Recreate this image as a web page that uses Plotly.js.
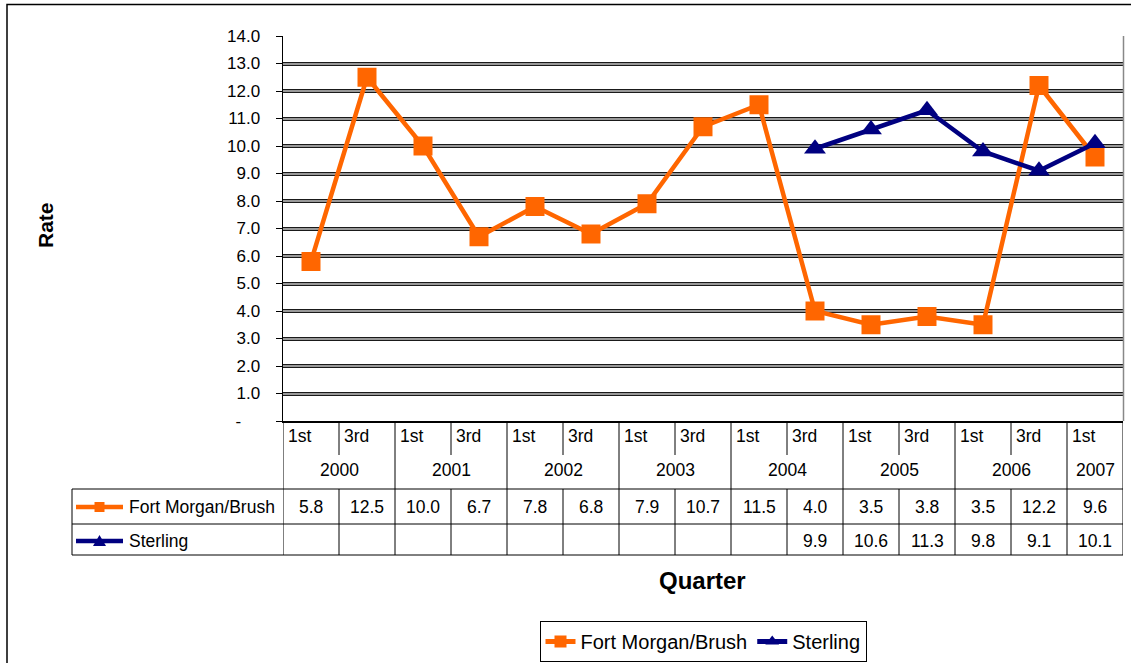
<!DOCTYPE html>
<html><head><meta charset="utf-8">
<script src="https://cdn.plot.ly/plotly-3.0.1.min.js"></script>
<style>html,body{margin:0;padding:0;background:#fff}</style>
</head><body><div id="chart" style="width:1131px;height:663px"></div>
<script>
// ---- data ----
const quarters = ['1st','3rd','1st','3rd','1st','3rd','1st','3rd','1st','3rd','1st','3rd','1st','3rd','1st'];
const years = ['2000','2000','2001','2001','2002','2002','2003','2003','2004','2004','2005','2005','2006','2006','2007'];
const fortMorgan = [5.8,12.5,10.0,6.7,7.8,6.8,7.9,10.7,11.5,4.0,3.5,3.8,3.5,12.2,9.6];
const sterling = [null,null,null,null,null,null,null,null,null,9.9,10.6,11.3,9.8,9.1,10.1];
const seriesNames = ['Fort Morgan/Brush','Sterling'];
const yTicks = [0,1,2,3,4,5,6,7,8,9,10,11,12,13,14];

// ---- styling / layout helpers ----
const W = 1131, H = 663;
const px = p => p / W;
const py = p => 1 - p / H;
const FONT = 'Liberation Sans, Arial, sans-serif';
const ORANGE = '#FF6600', NAVY = '#000080';
const cats = years.map((y, i) => y + ' ' + quarters[i]);
const yTickText = yTicks.map(v => v === 0 ? '-\u2007\u2007' : v.toFixed(1));
const gridTicks = yTicks.filter(v => v !== 0);

const traces = [
  {x: cats, y: fortMorgan, name: seriesNames[0], type: 'scatter', mode: 'lines+markers',
   line: {color: ORANGE, width: 4.5}, marker: {symbol: 'square', size: 19, color: ORANGE}},
  {x: cats, y: sterling, name: seriesNames[1], type: 'scatter', mode: 'lines+markers',
   line: {color: NAVY, width: 4.5}, marker: {symbol: 'triangle-up', size: 19, color: NAVY}}
];

// ---- data table (below the plot) ----
const tTop = 421, tQ = 455, tY = 489, tR1 = 524, tBot = 555;
const shapes = [];
const annotations = [];
const ln = (o) => shapes.push(Object.assign({type: 'line', line: {color: '#000', width: 1}, layer: 'above'}, o));

for (let b = 0; b <= cats.length; b++) {
  const xb = b - 0.5;
  ln({xref: 'x', yref: 'paper', x0: xb, x1: xb, y0: py(tY), y1: py(tBot)});
  const isYearEdge = b === 0 || b === cats.length || years[b] !== years[b - 1];
  ln({xref: 'x', yref: 'paper', x0: xb, x1: xb, y0: py(tTop), y1: py(isYearEdge ? tY : tQ)});
}
[tY, tR1, tBot].forEach(yy => ln({xref: 'paper', yref: 'paper', x0: px(72), x1: px(1123), y0: py(yy), y1: py(yy)}));
ln({xref: 'paper', yref: 'paper', x0: px(72), x1: px(72), y0: py(tY), y1: py(tBot)});

const tFont = {family: FONT, size: 17.5, color: '#000'};
quarters.forEach((q, i) => annotations.push({xref: 'x', yref: 'paper', x: i - 0.5, y: py(436), text: q,
  showarrow: false, xanchor: 'left', yanchor: 'middle', xshift: 3, font: tFont}));
const uniqYears = [...new Set(years)];
uniqYears.forEach(yr => {
  const idx = years.map((v, i) => v === yr ? i : -1).filter(i => i >= 0);
  const mid = idx.reduce((a, b) => a + b, 0) / idx.length;
  annotations.push({xref: 'x', yref: 'paper', x: mid, y: py(470), text: yr, showarrow: false,
    xanchor: 'center', yanchor: 'middle', font: tFont});
});
[[fortMorgan, 507], [sterling, 541]].forEach(([arr, yy]) => arr.forEach((v, i) => {
  if (v === null) return;
  annotations.push({xref: 'x', yref: 'paper', x: i, y: py(yy), text: v.toFixed(1), showarrow: false,
    xanchor: 'center', yanchor: 'middle', font: tFont});
}));
// series keys in table
[[seriesNames[0], 507, ORANGE, 'sq'], [seriesNames[1], 541, NAVY, 'tri']].forEach(([nm, yy, col, sym]) => {
  shapes.push({type: 'line', xref: 'paper', yref: 'paper', x0: px(76), x1: px(123), y0: py(yy), y1: py(yy),
    line: {color: col, width: 4.5}, layer: 'above'});
  if (sym === 'sq') {
    shapes.push({type: 'rect', xref: 'paper', yref: 'paper', x0: px(94.5), x1: px(104.5), y0: py(yy - 5), y1: py(yy + 5),
      fillcolor: col, line: {width: 0}, layer: 'above'});
  } else {
    shapes.push({type: 'path', xref: 'paper', yref: 'paper',
      path: `M ${px(93)} ${py(yy + 5)} L ${px(106)} ${py(yy + 5)} L ${px(99.5)} ${py(yy - 6)} Z`,
      fillcolor: col, line: {width: 0}, layer: 'above'});
  }
  annotations.push({xref: 'paper', yref: 'paper', x: px(127), y: py(yy), text: nm, showarrow: false,
    xanchor: 'left', yanchor: 'middle', font: tFont});
});

// plot area right border and outer chart border
shapes.push({type: 'line', xref: 'paper', yref: 'paper', x0: px(1123.5), x1: px(1123.5), y0: py(36), y1: py(421),
  line: {color: '#888', width: 1.5}, layer: 'above'});
shapes.push({type: 'rect', xref: 'paper', yref: 'paper', x0: px(7), x1: 1.02, y0: py(4.5), y1: -0.02,
  line: {color: '#000', width: 1.5}, fillcolor: 'rgba(0,0,0,0)', layer: 'above'});

// axis titles
annotations.push({xref: 'paper', yref: 'paper', x: px(45), y: py(225), text: '<b>Rate</b>', textangle: -90,
  showarrow: false, xanchor: 'center', yanchor: 'middle', font: {family: FONT, size: 21, color: '#000'}});
annotations.push({xref: 'paper', yref: 'paper', x: px(702), y: py(580), text: '<b>Quarter</b>',
  showarrow: false, xanchor: 'center', yanchor: 'middle', font: {family: FONT, size: 24, color: '#000'}});

const yDom = [py(421), py(36)];
const layout = {
  width: W, height: H,
  margin: {l: 0, r: 0, t: 0, b: 0},
  paper_bgcolor: '#fff', plot_bgcolor: '#fff',
  font: {family: FONT, color: '#000'},
  showlegend: true,
  legend: {orientation: 'h', x: px(703), xanchor: 'center', y: py(621), yanchor: 'top',
    bordercolor: '#000', borderwidth: 1, bgcolor: '#fff', font: {family: FONT, size: 20},
    itemsizing: 'constant', traceorder: 'normal'},
  xaxis: {type: 'category', domain: [px(283), px(1123)], range: [-0.5, cats.length - 0.5],
    showticklabels: false, ticks: '', showgrid: false, zeroline: false,
    showline: true, linecolor: '#000', linewidth: 1.5, fixedrange: true},
  yaxis: {domain: yDom, range: [0, 14], tickvals: yTicks, ticktext: yTickText,
    ticks: 'outside', ticklen: 6, tickcolor: '#000', tickwidth: 1, ticklabelstandoff: 12,
    tickfont: {family: FONT, size: 17, color: '#000'},
    showgrid: false, zeroline: false, showline: true, linecolor: '#000', linewidth: 1.5, fixedrange: true},
  yaxis2: {overlaying: 'y', domain: yDom, range: [0, 14], tickvals: gridTicks, showticklabels: false, ticks: '',
    showgrid: true, gridcolor: '#1a1a1a', gridwidth: 4, zeroline: false, showline: false, fixedrange: true},
  yaxis3: {overlaying: 'y', domain: yDom, range: [0, 14], tickvals: gridTicks, showticklabels: false, ticks: '',
    showgrid: true, gridcolor: '#999', gridwidth: 2, zeroline: false, showline: false, fixedrange: true},
  shapes: shapes,
  annotations: annotations
};
traces.unshift(
  {x: [cats[0]], y: [null], yaxis: 'y2', showlegend: false, hoverinfo: 'skip', mode: 'markers', type: 'scatter'},
  {x: [cats[0]], y: [null], yaxis: 'y3', showlegend: false, hoverinfo: 'skip', mode: 'markers', type: 'scatter'}
);
Plotly.newPlot('chart', traces, layout, {displayModeBar: false, staticPlot: true});
</script>
</body></html>
